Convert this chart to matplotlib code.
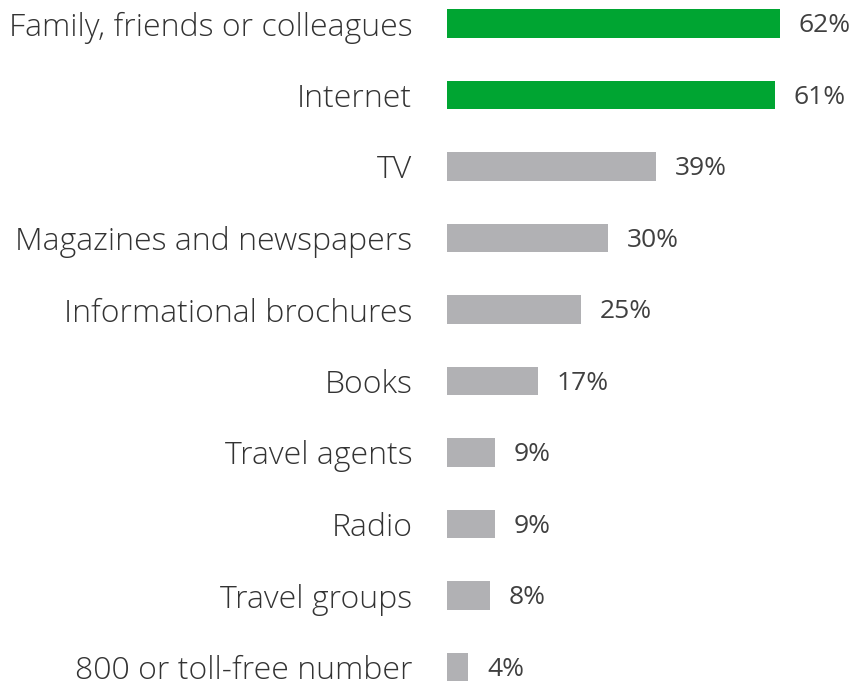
import matplotlib.pyplot as plt

categories = ["Family, friends or colleagues", "Internet", "TV",
              "Magazines and newspapers", "Informational brochures", "Books",
              "Travel agents", "Radio", "Travel groups", "800 or toll-free number"]
values = [62, 61, 39, 30, 25, 17, 9, 9, 8, 4]
highlight = [True, True, False, False, False, False, False, False, False, False]

green = "#00A532"
grey = "#B1B1B4"

fig = plt.figure(figsize=(8.54, 6.82), dpi=100)
ax = fig.add_axes([447 / 854, 0, 407 / 854, 1])

pos = list(range(len(categories)))
colors = [green if h else grey for h in highlight]
ax.barh(pos, values, height=0.405, color=colors)

for y, v in zip(pos, values):
    ax.annotate(f"{v}%", xy=(v, y), xytext=(13.5, -1.5), textcoords="offset points",
                va="center", ha="left", fontsize=19, color="#404040",
                family="Open Sans")

ax.set_xlim(0, 407 / 5.37)
ax.set_ylim((682 - 23.5) / 71.5, -23.5 / 71.5)
ax.set_yticks(pos)
ax.set_yticklabels(categories, fontsize=23, color="#333333",
                   family="Open Sans", fontweight="light")
ax.tick_params(axis="y", length=0, pad=25)
ax.set_xticks([])
for s in ax.spines.values():
    s.set_visible(False)

fig.savefig("out.png", dpi=100)
